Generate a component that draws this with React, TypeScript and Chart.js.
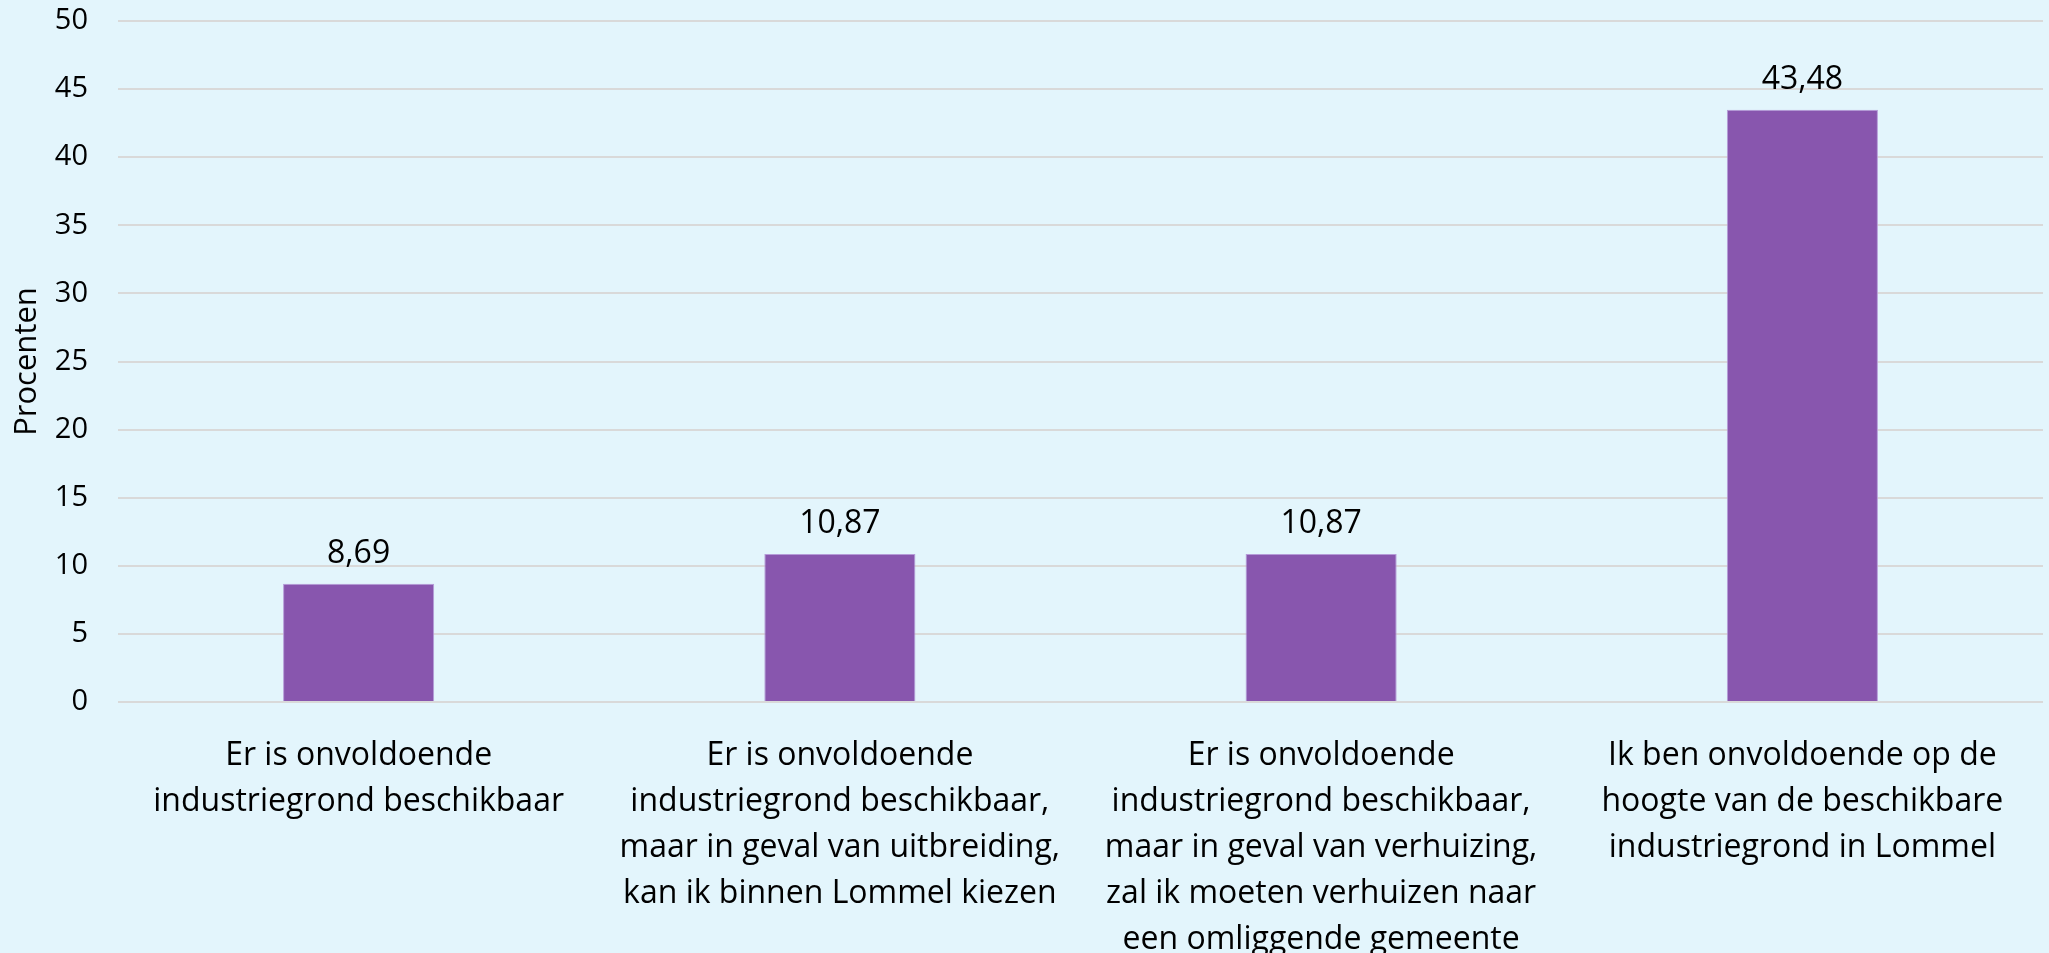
import React, { useEffect, useRef } from "react";
import { Chart, registerables } from "chart.js";

Chart.register(...registerables);

const categories: string[][] = [
  ["Er is onvoldoende", "industriegrond beschikbaar"],
  ["Er is onvoldoende", "industriegrond beschikbaar,", "maar in geval van uitbreiding,", "kan ik binnen Lommel kiezen"],
  ["Er is onvoldoende", "industriegrond beschikbaar,", "maar in geval van verhuizing,", "zal ik moeten verhuizen naar", "een omliggende gemeente"],
  ["Ik ben onvoldoende op de", "hoogte van de beschikbare", "industriegrond in Lommel"],
];
const values: number[] = [8.69, 10.87, 10.87, 43.48];
const yTicks: number[] = [0, 5, 10, 15, 20, 25, 30, 35, 40, 45, 50];
const yTitle = "Procenten";

const FONT = "'Open Sans', 'Noto Sans', sans-serif";

const dataLabelPlugin = {
  id: "dataLabels",
  afterDatasetsDraw(chart: any) {
    const ctx = chart.ctx;
    const meta = chart.getDatasetMeta(0);
    ctx.save();
    ctx.font = `32px ${FONT}`;
    ctx.fillStyle = "#000000";
    ctx.textAlign = "center";
    ctx.textBaseline = "alphabetic";
    meta.data.forEach((bar: any, i: number) => {
      const v = values[i];
      ctx.fillText(v.toFixed(2).replace(".", ","), bar.x, bar.y - 21);
    });
    ctx.restore();
  },
};

export default function App() {
  const ref = useRef<HTMLCanvasElement | null>(null);
  useEffect(() => {
    if (!ref.current) return;
    const chart = new Chart(ref.current, {
      type: "bar",
      data: {
        labels: categories,
        datasets: [
          {
            data: values,
            backgroundColor: "rgba(136,86,174,1)",
            borderColor: "#B59BD8",
            borderWidth: 1,
            barPercentage: 0.314,
            categoryPercentage: 1,
          },
        ],
      },
      options: {
        responsive: false,
        animation: false,
        layout: { padding: { top: 21, right: 6, left: 0, bottom: 0 } },
        plugins: {
          legend: { display: false },
          tooltip: { enabled: false },
        },
        scales: {
          x: {
            grid: { display: false, drawTicks: false },
            border: { display: false },
            ticks: {
              color: "#000000",
              font: { family: FONT, size: 32, lineHeight: 46 / 32 },
              padding: 31,
              maxRotation: 0,
              autoSkip: false,
            },
            afterFit: (scale: any) => {
              scale.height = 251;
              scale.paddingLeft = 0;
              scale.paddingRight = 0;
            },
          },
          y: {
            min: 0,
            max: 50,
            afterBuildTicks: (scale: any) => {
              scale.ticks = yTicks.map((v) => ({ value: v }));
            },
            grid: { color: "#D9D9D9", lineWidth: 2, drawTicks: false },
            border: { display: false },
            ticks: {
              color: "#000000",
              font: { family: FONT, size: 29 },
              padding: 30,
            },
            title: {
              display: true,
              text: yTitle,
              color: "#000000",
              font: { family: FONT, size: 31 },
              padding: { top: 9, bottom: 0 },
            },
            afterFit: (scale: any) => {
              scale.width = 118;
              scale.paddingTop = 0;
              scale.paddingBottom = 0;
            },
          },
        },
      },
      plugins: [dataLabelPlugin],
    });
    return () => chart.destroy();
  }, []);

  return (
    <div
      style={{
        position: "fixed",
        left: 0,
        top: 0,
        width: 2049,
        height: 953,
        background: "#E3F5FC",
      }}
    >
      <canvas ref={ref} width={2049} height={953} style={{ width: 2049, height: 953, display: "block" }} />
    </div>
  );
}
